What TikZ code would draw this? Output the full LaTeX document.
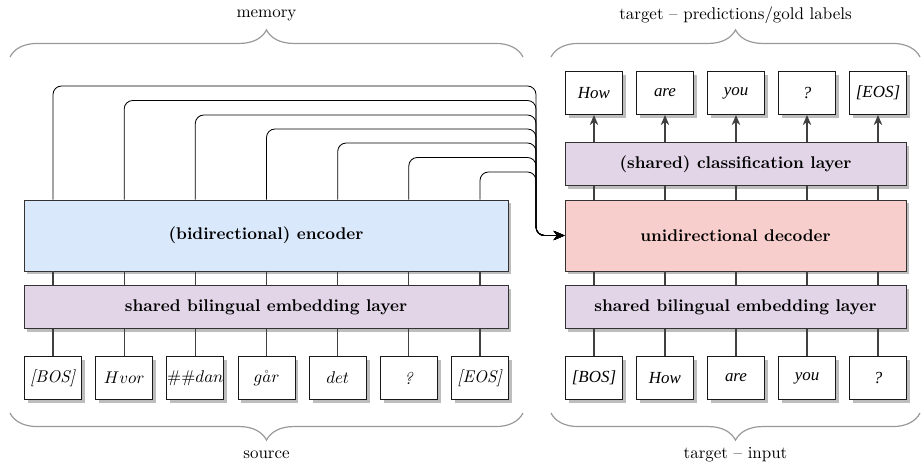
\documentclass[tikz,border=0pt]{standalone}
\usepackage{fontspec}
\newfontfamily\tnr{Liberation Serif}
\usetikzlibrary{shadows,decorations.pathreplacing,arrows.meta}
\definecolor{encblue}{HTML}{DAE8FC}
\definecolor{lavender}{HTML}{E1D5E7}
\definecolor{decpink}{HTML}{F8CECC}
\definecolor{bracegray}{HTML}{999999}
\definecolor{shadowgray}{HTML}{BDBDBD}
\tikzset{
  boxshadow/.style={drop shadow={shadow xshift=2pt,shadow yshift=-2pt,fill=shadowgray,opacity=1}},
  token/.style={draw=black!90,line width=0.55pt,fill=white,minimum width=57*0.59pt,minimum height=43*0.59pt,inner sep=0pt,boxshadow},
  layer/.style={draw=black!80,line width=0.5pt,minimum width=#1*0.59pt,inner sep=0pt,boxshadow,font=\normalsize\bfseries},
  thinlayer/.style={layer=#1,minimum height=42.5*0.59pt},
  thicklayer/.style={layer=#1,minimum height=71*0.59pt},
  link/.style={draw=black!75,line width=0.6pt},
  uplink/.style={link,-{Stealth[length=6pt,width=5pt]}},
  mem/.style={draw=black,line width=0.5pt,rounded corners=5pt,-{Stealth[length=6.5pt,width=5.5pt]}},
  brc/.style={draw=bracegray,line width=0.7pt,decorate,decoration={brace,amplitude=16pt}},
  lbl/.style={font=\normalsize,inner sep=1pt}
}
\begin{document}
\begin{tikzpicture}[x=0.59pt,y=-0.59pt]
\useasboundingbox (0,0) rectangle (921,463);
% braces
\draw[brc] (10,57) -- (523,57);
\draw[brc] (551,57) -- (920,57);
\draw[brc] (523,413) -- (10,413);
\draw[brc] (920,413) -- (551,413);
\node[lbl] (lmem) at (266.5,15) {memory};
\node[lbl] (ltgt) at (735.5,15) {target -- predictions/gold labels};
\node[lbl] (lsrc) at (266.5,455) {source};
\node[lbl] (linp) at (735.5,455) {target -- input};
% layers
\node[thicklayer=484,fill=encblue] (enc) at (266,235.5) {(bidirectional) encoder};
\node[thinlayer=484,fill=lavender] (embL) at (266,307) {shared bilingual embedding layer};
\node[thicklayer=341,fill=decpink] (dec) at (735.5,235.5) {unidirectional decoder};
\node[thinlayer=341,fill=lavender] (embR) at (735.5,307) {shared bilingual embedding layer};
\node[thinlayer=341,fill=lavender] (cls) at (735.5,164) {(shared) classification layer};
% source tokens
\node[token] (s1) at (53,378) {\textit{[BOS]}};
\node[token] (s2) at (124.2,378) {$Hvor$};
\node[token] (s3) at (195.3,378) {$\#\#dan$};
\node[token] (s4) at (266.5,378) {$g\mathring{a}r$};
\node[token] (s5) at (337.7,378) {$det$};
\node[token] (s6) at (408.8,378) {\textit{?}};
\node[token] (s7) at (480,378) {\textit{[EOS]}};
% target input tokens
\node[token] (t1) at (594,378) {\tnr\itshape [BOS]};
\node[token] (t2) at (665,378) {\tnr\itshape How};
\node[token] (t3) at (736,378) {\tnr\itshape are};
\node[token] (t4) at (807,378) {\tnr\itshape you};
\node[token] (t5) at (878,378) {\tnr\itshape ?};
% predictions
\node[token] (p1) at (594,93) {\tnr\itshape How};
\node[token] (p2) at (665,93) {\tnr\itshape are};
\node[token] (p3) at (736,93) {\tnr\itshape you};
\node[token] (p4) at (807,93) {\tnr\itshape ?};
\node[token] (p5) at (878,93) {\tnr\itshape [EOS]};
% source links
\foreach \s in {s1,s2,s3,s4,s5,s6,s7}{
  \draw[link] (\s.north) -- (\s |- embL.south);
  \draw[link] (\s |- embL.north) -- (\s |- enc.south);
}
% target links
\foreach \t/\p in {t1/p1,t2/p2,t3/p3,t4/p4,t5/p5}{
  \draw[link] (\t.north) -- (\t |- embR.south);
  \draw[link] (\t |- embR.north) -- (\t |- dec.south);
  \draw[link] (\t |- dec.north) -- (\t |- cls.south);
  \draw[uplink] (\p |- cls.north) -- (\p.south);
}
% memory
\coordinate (mx) at (536,0);
\foreach \s/\y in {s1/86,s2/100.5,s3/115,s4/129,s5/143,s6/157.5,s7/172}{
  \draw[mem] (\s |- enc.north) -- (\s |- 0,\y) -- (mx |- 0,\y) -- (mx |- dec.west) -- (dec.west);
}
\end{tikzpicture}
\end{document}
